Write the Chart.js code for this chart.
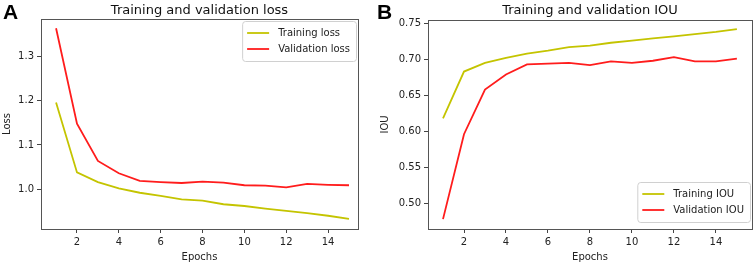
<!DOCTYPE html>
<html>
<head>
<meta charset="utf-8">
<script src="https://cdn.jsdelivr.net/npm/chart.js@4/dist/chart.umd.min.js"></script>
<style>
  body { margin: 0; background: #fff; }
  #wrap { position: relative; width: 754px; height: 264px; }
  canvas { position: absolute; top: 0; }
</style>
</head>
<body>
<div id="wrap">
  <canvas id="lossChart" width="374" height="264" style="left:0"></canvas>
  <canvas id="iouChart" width="380" height="264" style="left:374px"></canvas>
</div>
<script>
// data
const epochs = [1, 2, 3, 4, 5, 6, 7, 8, 9, 10, 11, 12, 13, 14, 15];
const trainLoss = [1.196, 1.038, 1.016, 1.002, 0.992, 0.985, 0.977, 0.974, 0.966, 0.962, 0.956, 0.951, 0.946, 0.940, 0.933];
const valLoss = [1.364, 1.148, 1.064, 1.036, 1.019, 1.016, 1.014, 1.017, 1.015, 1.009, 1.008, 1.004, 1.012, 1.010, 1.009];
const trainIou = [0.618, 0.683, 0.695, 0.702, 0.708, 0.712, 0.717, 0.719, 0.723, 0.726, 0.729, 0.732, 0.735, 0.738, 0.742];
const valIou = [0.478, 0.596, 0.658, 0.679, 0.693, 0.694, 0.695, 0.692, 0.697, 0.695, 0.698, 0.703, 0.697, 0.697, 0.701];
const xTicks = [2, 4, 6, 8, 10, 12, 14];
const lossTicks = [1.0, 1.1, 1.2, 1.3];
const iouTicks = [0.50, 0.55, 0.60, 0.65, 0.70, 0.75];

const YELLOW = '#c4c400';
const RED = '#ff1c1c';
const FONT = "'DejaVu Sans', sans-serif";

function pts(ys) {
    return epochs.map((e, i) => ({ x: e, y: ys[i] }));
}

// frame, title, panel letter and legend drawn around the chart area
const decorPlugin = {
    id: 'decor',
    afterDraw(chart, args, opts) {
        const ctx = chart.ctx;
        const a = chart.chartArea;
        ctx.save();
        // axes frame
        ctx.strokeStyle = '#555';
        ctx.lineWidth = 1;
        ctx.strokeRect(Math.round(a.left) + 0.5, Math.round(a.top) + 0.5,
            Math.round(a.right - a.left), Math.round(a.bottom - a.top));
        // title
        ctx.fillStyle = '#111';
        ctx.font = '13px ' + FONT;
        ctx.textAlign = 'center';
        ctx.textBaseline = 'alphabetic';
        ctx.fillText(opts.title, (a.left + a.right) / 2, 13.5);
        // panel letter
        ctx.font = "bold 21px 'Liberation Sans', Arial, sans-serif";
        ctx.textAlign = 'left';
        ctx.fillStyle = '#000';
        ctx.fillText(opts.letter, opts.letterX, 18.5);
        // legend
        ctx.font = '10px ' + FONT;
        const labels = chart.data.datasets.map(d => d.label);
        const tw = Math.max(...labels.map(l => ctx.measureText(l).width));
        const w = 5 + 22 + 9 + tw + 6;
        const h = 8 + labels.length * 16;
        const x = a.right - 2 - w;
        const y = opts.loc === 'upper' ? a.top + 2 : a.bottom - 7 - h;
        ctx.fillStyle = 'rgba(255,255,255,0.85)';
        ctx.strokeStyle = '#d0d0d0';
        ctx.beginPath();
        ctx.roundRect(x + 0.5, y + 0.5, w, h, 3);
        ctx.fill();
        ctx.stroke();
        chart.data.datasets.forEach((d, i) => {
            const cy = y + 12 + i * 16;
            ctx.strokeStyle = d.borderColor;
            ctx.lineWidth = 1.8;
            ctx.beginPath();
            ctx.moveTo(x + 5, cy);
            ctx.lineTo(x + 27, cy);
            ctx.stroke();
            ctx.fillStyle = '#222';
            ctx.textBaseline = 'middle';
            ctx.fillText(d.label, x + 36, cy + 0.5);
        });
        ctx.restore();
    }
};

function makeChart(id, cfg) {
    return new Chart(document.getElementById(id), {
        type: 'line',
        data: {
            datasets: [
                { label: cfg.labels[0], data: pts(cfg.train), borderColor: YELLOW },
                { label: cfg.labels[1], data: pts(cfg.val), borderColor: RED }
            ]
        },
        options: {
            responsive: false,
            animation: false,
            parsing: false,
            elements: {
                point: { radius: 0 },
                line: { borderWidth: 1.8, tension: 0 }
            },
            layout: { padding: { left: 0, right: cfg.padRight, top: cfg.top, bottom: 0 } },
            plugins: {
                legend: { display: false },
                tooltip: { enabled: false },
                decor: { title: cfg.title, letter: cfg.letter, letterX: cfg.letterX, loc: cfg.legendLoc }
            },
            scales: {
                x: {
                    type: 'linear',
                    min: cfg.xMin,
                    max: cfg.xMax,
                    afterBuildTicks: s => { s.ticks = xTicks.map(v => ({ value: v })); },
                    afterFit: s => { s.height = 264 - cfg.bottom; },
                    border: { display: false },
                    grid: { drawOnChartArea: false, tickLength: 4, color: '#444' },
                    ticks: { padding: 3, color: '#222', font: { family: FONT, size: 10 }, maxRotation: 0 },
                    title: { display: true, text: 'Epochs', color: '#222', font: { family: FONT, size: 10 }, padding: { top: 0, bottom: 1 } }
                },
                y: {
                    min: cfg.yMin,
                    max: cfg.yMax,
                    afterBuildTicks: s => { s.ticks = cfg.yTicks.map(v => ({ value: v })); },
                    afterFit: s => { s.width = cfg.left; },
                    border: { display: false },
                    grid: { drawOnChartArea: false, tickLength: 4, color: '#444' },
                    ticks: {
                        padding: 3, color: '#222', font: { family: FONT, size: 10 },
                        callback: v => v.toFixed(cfg.dec)
                    },
                    title: { display: true, text: cfg.yTitle, color: '#222', font: { family: FONT, size: 10 }, padding: { top: cfg.yTitlePad, bottom: 0 } }
                }
            }
        },
        plugins: [decorPlugin]
    });
}

makeChart('lossChart', {
    labels: ['Training loss', 'Validation loss'],
    train: trainLoss, val: valLoss,
    title: 'Training and validation loss', letter: 'A', letterX: 3, legendLoc: 'upper',
    left: 41, padRight: 16, top: 19, bottom: 229,
    xMin: 0.28, xMax: 15.43,
    yMin: 0.910, yMax: 1.385, yTicks: lossTicks, dec: 1,
    yTitle: 'Loss', yTitlePad: 1
});

makeChart('iouChart', {
    labels: ['Training IOU', 'Validation IOU'],
    train: trainIou, val: valIou,
    title: 'Training and validation IOU', letter: 'B', letterX: 3, legendLoc: 'lower',
    left: 54, padRight: 2, top: 20, bottom: 229,
    xMin: 0.285, xMax: 15.72,
    yMin: 0.4643, yMax: 0.7546, yTicks: iouTicks, dec: 2,
    yTitle: 'IOU', yTitlePad: 5
});
</script>
</body>
</html>
